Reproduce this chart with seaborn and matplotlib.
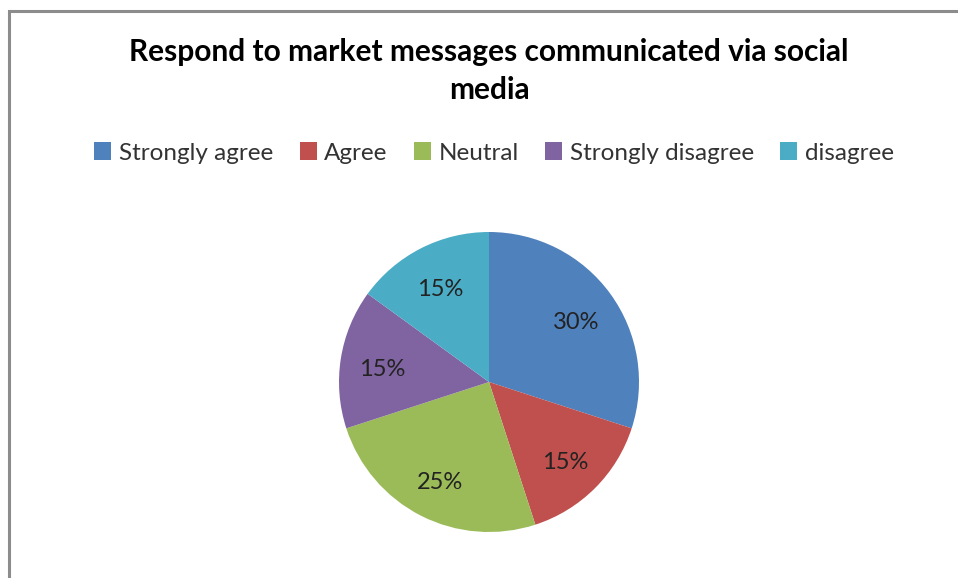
import matplotlib
matplotlib.use("Agg")
import matplotlib.pyplot as plt
from matplotlib.patches import Rectangle
from matplotlib.transforms import offset_copy
import seaborn as sns

# Survey responses
categories = ["Strongly agree", "Agree", "Neutral", "Strongly disagree", "disagree"]
shares = [30, 15, 25, 15, 15]
colors = ["#4F81BD", "#C0504D", "#9BBB59", "#8064A2", "#4BACC6"]
title_lines = ["Respond to market messages communicated via social", "media"]

sns.set_theme(style="white")
plt.rcParams["font.family"] = ["Lato", "DejaVu Sans"]

W, H = 958, 578
fig = plt.figure(figsize=(W / 100, H / 100), dpi=100)
fig.patch.set_facecolor("white")

# Chart-area frame (opens past the right and bottom edges)
fig.add_artist(Rectangle((8.5 / W, -0.05), 1.2, 1.05 - 10.5 / H,
                         transform=fig.transFigure, fill=False,
                         edgecolor="#8c8c8c", linewidth=2.2))

cx, cy, r = 489, 382, 150
ax = fig.add_axes([(cx - r) / W, (H - cy - r) / H, 2 * r / W, 2 * r / H])
wedges, texts = ax.pie(
    shares, colors=colors, startangle=90, counterclock=False, radius=1.0,
    labels=[f"{v}%" for v in shares], labeldistance=0.72,
    wedgeprops=dict(linewidth=0, edgecolor="none"),
    textprops=dict(fontsize=17, color="#222222", ha="center", va="center"),
)
# nudge the percentage labels slightly downward
for t in texts:
    t.set_transform(offset_copy(t.get_transform(), fig=fig, x=0, y=-4, units="dots"))
ax.set_xlim(-1, 1)
ax.set_ylim(-1, 1)
ax.set_aspect("equal")
ax.axis("off")

fig.text(489 / W, 1 - 52 / H, title_lines[0],
         ha="center", va="center", fontsize=21.5, fontweight="bold", color="black")
fig.text(489 / W, 1 - 90 / H, title_lines[1],
         ha="center", va="center", fontsize=21.5, fontweight="bold", color="black")

handles = [Rectangle((0, 0), 1, 1, facecolor=c, edgecolor="none") for c in colors]
leg = fig.legend(handles, categories, loc="center", bbox_to_anchor=(494 / W, 1 - 153 / H),
                 ncol=5, frameon=False, fontsize=17.5, handlelength=0.7, handleheight=0.7,
                 handletextpad=0.3, columnspacing=1.1, labelcolor="#333333")

fig.savefig("out.png", dpi=100, facecolor="white")
